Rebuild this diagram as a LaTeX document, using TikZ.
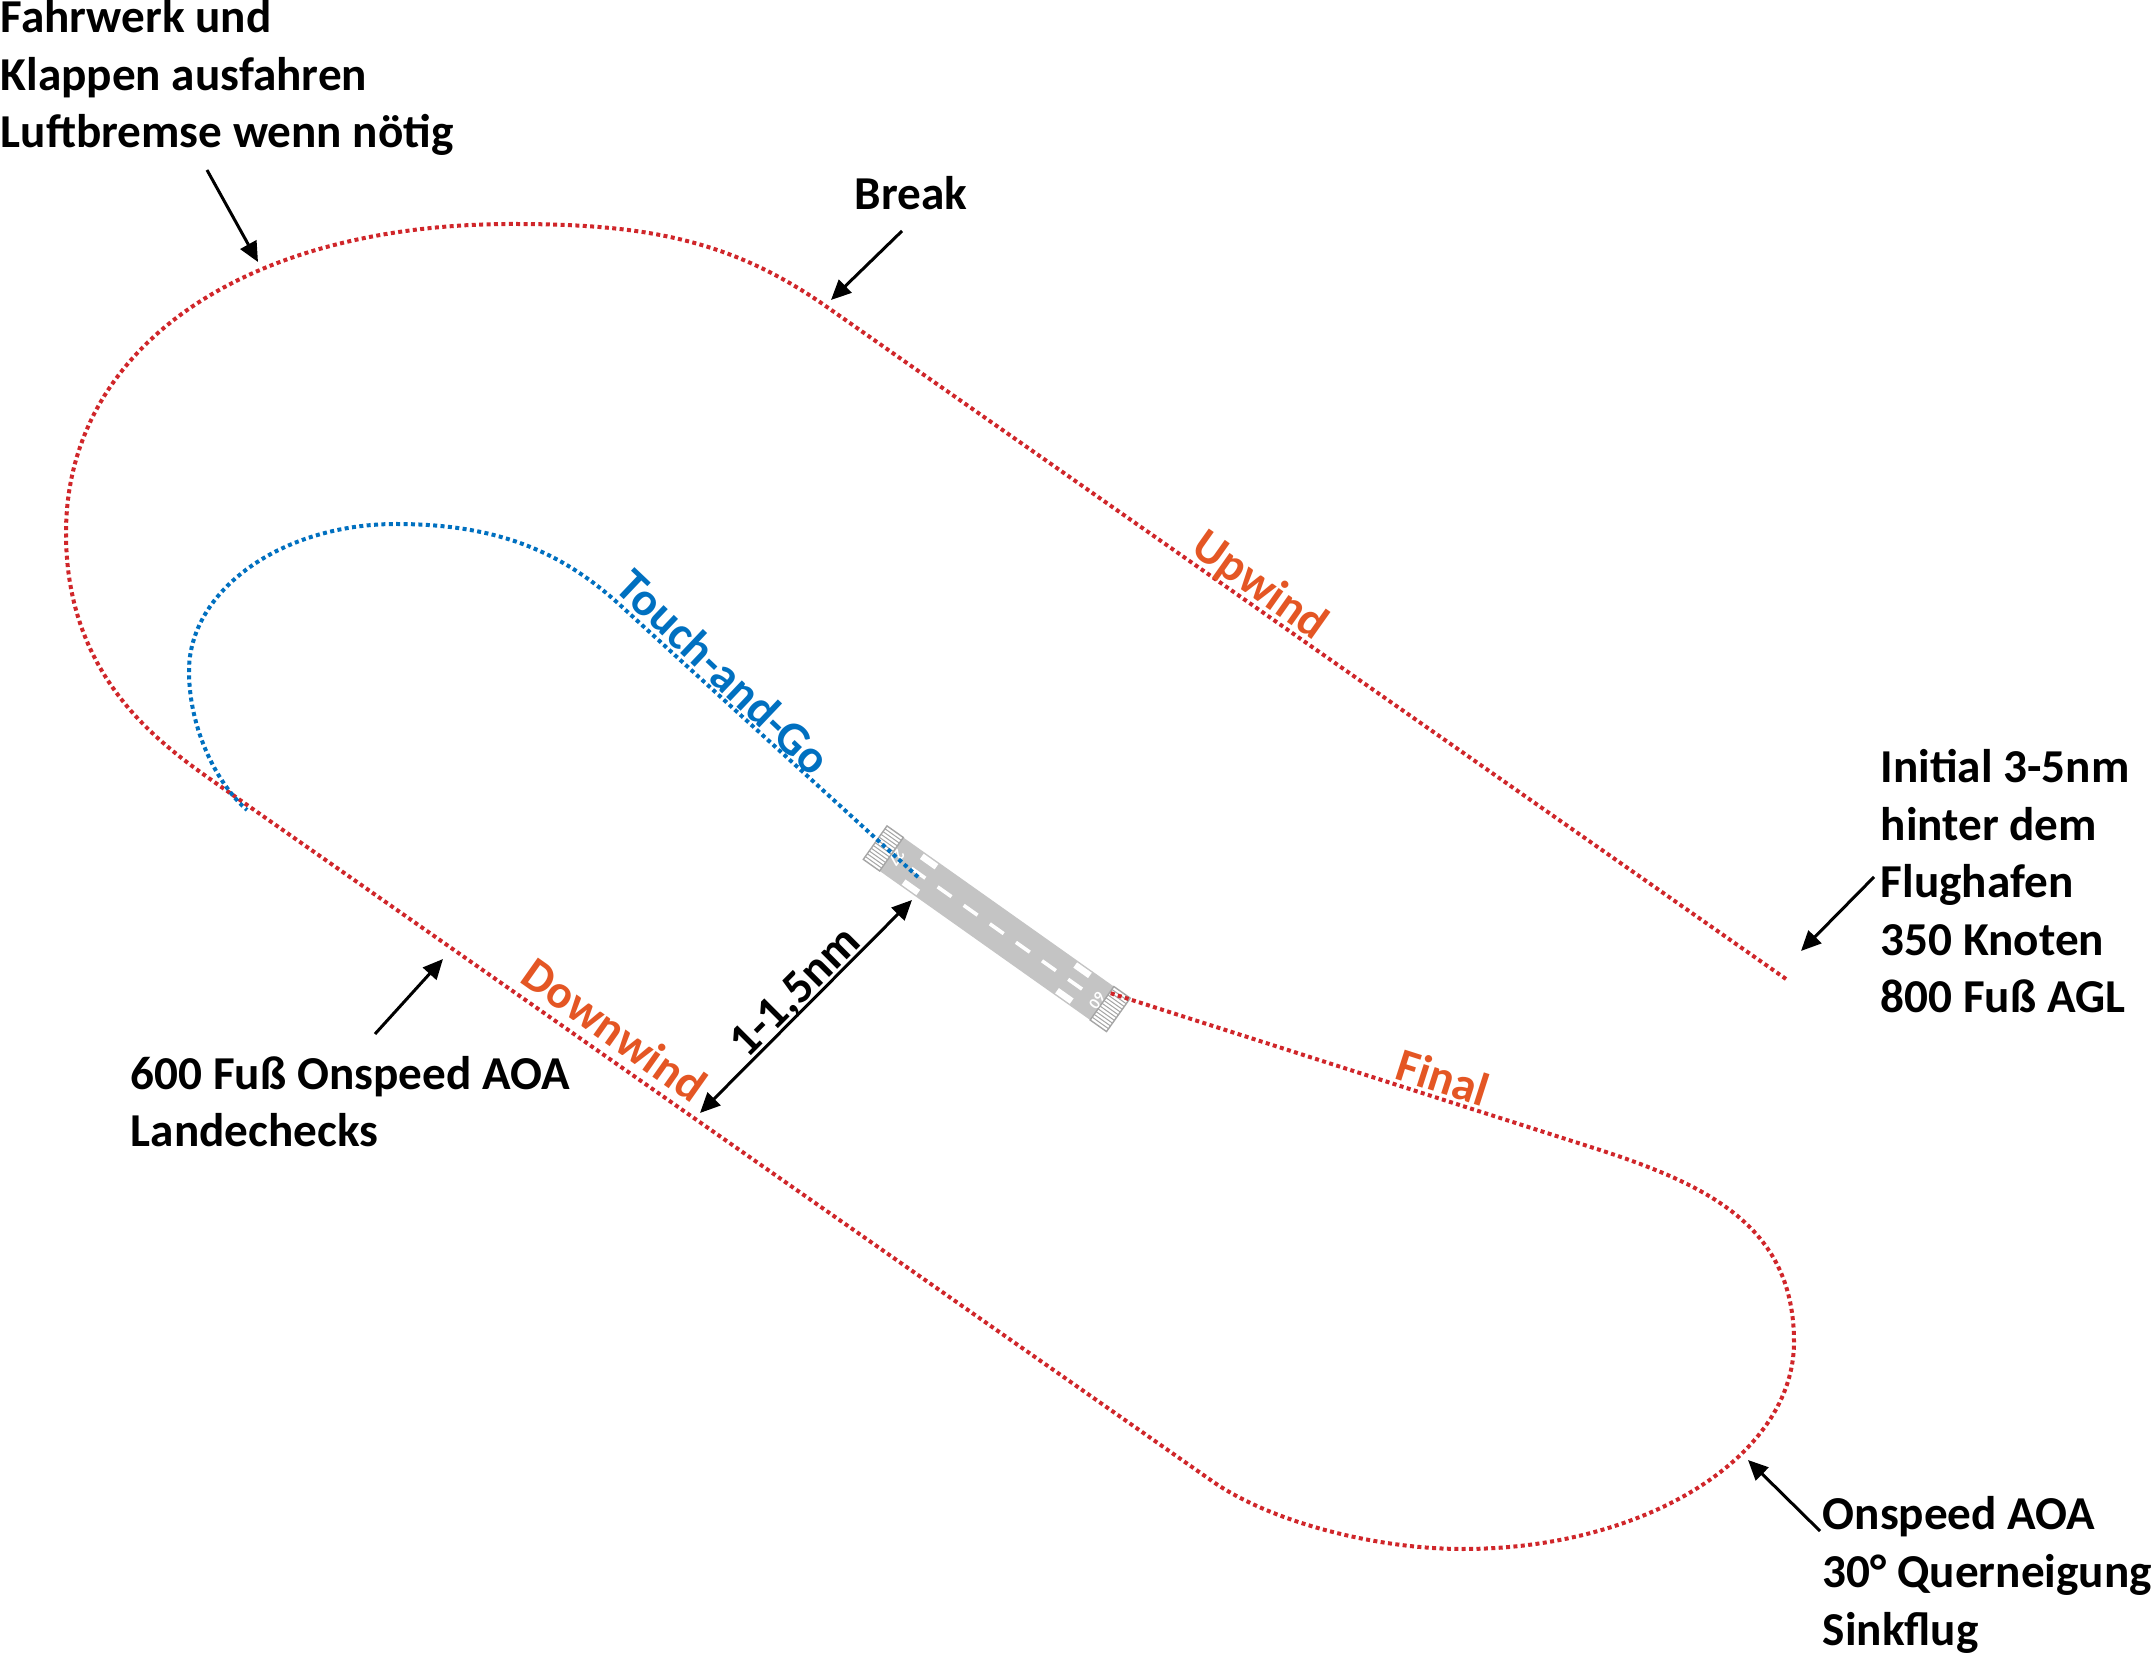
\documentclass[tikz,border=0pt]{standalone}
\usepackage{fontspec}
\setmainfont{Carlito}
\usetikzlibrary{arrows.meta}
\definecolor{pathred}{RGB}{208,38,42}
\definecolor{labelorange}{RGB}{228,86,36}
\definecolor{tgblue}{RGB}{0,112,192}
\definecolor{rwgray}{RGB}{196,196,196}
\definecolor{rwline}{RGB}{165,165,165}
\begin{document}
\begin{tikzpicture}[x=0.25pt,y=-0.25pt,
  lbl/.style={font=\fontsize{11.8}{14.4}\selectfont\bfseries, inner sep=0pt},
  note/.style={lbl, align=left, anchor=base west},
  callout/.style={line width=0.75pt, -{Triangle[length=5pt,width=4.5pt]}},
  dimarrow/.style={line width=0.75pt, {Triangle[length=5pt,width=4.5pt]}-{Triangle[length=5pt,width=4.5pt]}},
  redpath/.style={pathred, line width=1pt, dash pattern=on 1pt off 0.85pt},
  bluepath/.style={tgblue, line width=1pt, dash pattern=on 1pt off 0.85pt},
  leg/.style={lbl, text=labelorange, anchor=base},
  rwnum/.style={font=\fontsize{4}{4}\selectfont\bfseries, text=white, inner sep=0pt},
  rwmark/.style={fill=white, draw=none},
]
\fill[white] (0,0) rectangle (2154,1656);
\useasboundingbox (0,0) rectangle (2154,1656);

% ---------------- runway ----------------
\begin{scope}[shift={(996.75,928.75)}, rotate=-35.3]
  \fill[rwgray] (-129,-20.5) rectangle (129,20.5);
  \foreach \s in {-1,1}{
    \fill[white] (\s*129,-20.5) rectangle (\s*149,20.5);
    \foreach \v in {-17,-13.6,-10.2,-6.8,-3.4,0,3.4,6.8,10.2,13.6,17}
      \draw[rwline, line width=0.25pt] (\s*129,\v) -- (\s*149,\v);
    \draw[rwline, line width=0.35pt] (\s*129,-20.5) rectangle (\s*149,20.5);
  }
  \foreach \u in {-96,-64,-32,0,32,64,96}
    \fill[rwmark] (\u-8.5,-1.8) rectangle (\u+8.5,1.8);
  \foreach \u in {-94,94}{
    \fill[rwmark] (\u-9,-19) rectangle (\u+9,-12.5);
    \fill[rwmark] (\u-9,12.5) rectangle (\u+9,19);
  }
\end{scope}
\node[rwnum, rotate=-125.3] (n27) at (897,858) {27};
\node[rwnum, rotate=54.7] (n09) at (1097,1001) {09};

% ---------------- flight paths ----------------
\coordinate (ini) at (1786,979);
\coordinate (brk) at (827,307);
\coordinate (rwR) at (1110,993);
\coordinate (rwL) at (918,877);
\draw[redpath] (ini) -- (brk)
  .. controls (729,238) and (642,224) .. (512,224)
  .. controls (244,224) and (66,348) .. (66,533)
  .. controls (66,680) and (163,746) .. (220,786)
  -- (1212,1481)
  .. controls (1269,1521) and (1373,1549) .. (1463,1549)
  .. controls (1646,1549) and (1794,1456) .. (1794,1342)
  .. controls (1794,1230) and (1714,1187) .. (1600,1150)
  -- (rwR);
\draw[bluepath] (rwL) -- (620,605)
  .. controls (561,551) and (496,524) .. (396,524)
  .. controls (282,524) and (189,590) .. (189,671)
  .. controls (189,730) and (218,785) .. (247,810);

% ---------------- leg labels ----------------
\node[leg, rotate=-35.3] (upw) at (1252,597) {Upwind};
\node[leg, rotate=-35.3] (dnw) at (605,1043) {Downwind};
\node[leg, rotate=-17.8] (fin) at (1438,1093) {Final};
\node[lbl, text=tgblue, anchor=base, rotate=-43.5] (tag) at (713,684) {Touch-and-Go};

% ---------------- distance ----------------
\coordinate (dA) at (700,1113);
\coordinate (dB) at (912,900);
\draw[dimarrow] (dA) -- (dB);
\node[lbl, anchor=base, rotate=45] (dist) at (805,1002) {1-1,5nm};

% ---------------- notes (anchor = baseline of last line) ----------------
\node[note] (fw) at (0,148) {Fahrwerk und\\Klappen ausfahren\\Luftbremse wenn nötig};
\node[lbl, anchor=base] (brktxt) at (911,210) {Break};
\node[note] (initxt) at (1880,1013) {Initial 3-5nm\\hinter dem\\Flughafen\\350 Knoten\\800 Fuß AGL};
\node[note] (dwtxt) at (130,1147) {600 Fuß Onspeed AOA\\Landechecks};
\node[note] (bttxt) at (1822,1645) {Onspeed AOA\\30° Querneigung\\Sinkflug};

% ---------------- callout arrows ----------------
\coordinate (fwT) at (207,170);  \coordinate (fwH) at (258,262);
\coordinate (brT) at (902,231);  \coordinate (brH) at (831,300);
\coordinate (inT) at (1874,877); \coordinate (inH) at (1801,951);
\coordinate (onT) at (375,1034); \coordinate (onH) at (443,959);
\coordinate (qT)  at (1820,1531); \coordinate (qH) at (1748,1460);
\draw[callout] (fwT) -- (fwH);
\draw[callout] (brT) -- (brH);
\draw[callout] (inT) -- (inH);
\draw[callout] (onT) -- (onH);
\draw[callout] (qT) -- (qH);
\end{tikzpicture}
\end{document}
